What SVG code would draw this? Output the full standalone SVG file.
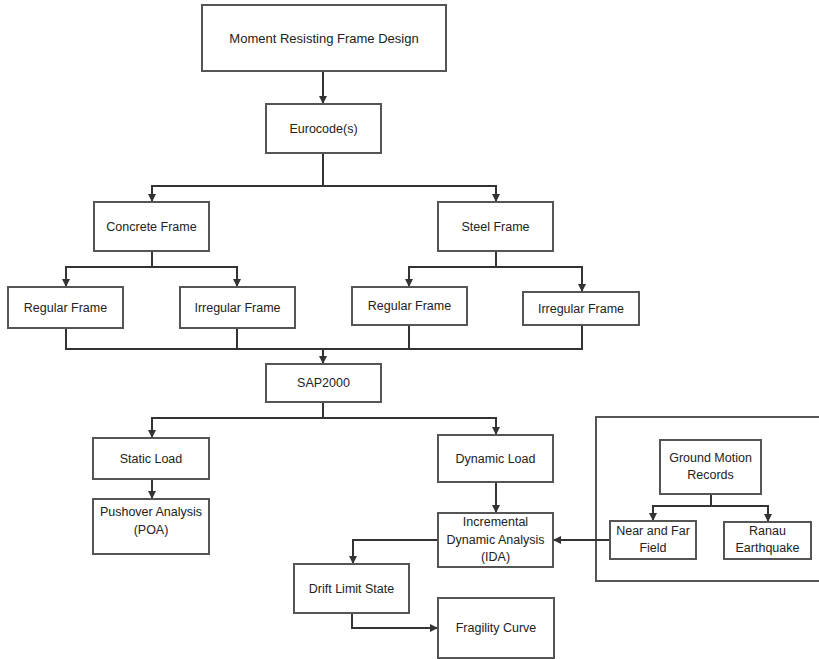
<svg xmlns="http://www.w3.org/2000/svg" width="819" height="659" viewBox="0 0 819 659">
<style>
.box{fill:#fff;stroke:#555;stroke-width:2}
.frame{fill:none;stroke:#555;stroke-width:2}
.t{font-family:"Liberation Sans",Arial,sans-serif;font-size:12.5px;fill:#222;text-anchor:middle;dominant-baseline:central}
.c{fill:none;stroke:#333;stroke-width:2}
</style>
<defs>
<marker id="ah" viewBox="0 0 10 10" refX="10" refY="5" markerWidth="4" markerHeight="4" orient="auto" markerUnits="strokeWidth">
<path d="M0,0 L10,5 L0,10 z" fill="#333"/>
</marker>
</defs>
<rect width="819" height="659" fill="#fff"/>
<path class="frame" d="M822,417 L596,417 L596,581 L822,581"/>
<g id="connectors">
<path class="c" d="M323,71 V104" marker-end="url(#ah)"/>
<path class="c" d="M323,153 V186"/>
<path class="c" d="M323,186 H152 V202" marker-end="url(#ah)"/>
<path class="c" d="M323,186 H496 V202" marker-end="url(#ah)"/>
<path class="c" d="M152,251 V267"/>
<path class="c" d="M152,267 H66 V287" marker-end="url(#ah)"/>
<path class="c" d="M152,267 H237 V287" marker-end="url(#ah)"/>
<path class="c" d="M496,251 V267"/>
<path class="c" d="M496,267 H409 V287" marker-end="url(#ah)"/>
<path class="c" d="M496,267 H582 V292" marker-end="url(#ah)"/>
<path class="c" d="M66,328 V349 H582 V325"/>
<path class="c" d="M237,328 V349"/>
<path class="c" d="M409,325 V349"/>
<path class="c" d="M323,349 V364" marker-end="url(#ah)"/>
<path class="c" d="M323,402 V418"/>
<path class="c" d="M323,418 H152 V438" marker-end="url(#ah)"/>
<path class="c" d="M323,418 H496 V435" marker-end="url(#ah)"/>
<path class="c" d="M152,479 V499" marker-end="url(#ah)"/>
<path class="c" d="M496,482 V513" marker-end="url(#ah)"/>
<path class="c" d="M711,494 V506"/>
<path class="c" d="M711,506 H653 V521" marker-end="url(#ah)"/>
<path class="c" d="M711,506 H768 V522" marker-end="url(#ah)"/>
<path class="c" d="M610,540 H553" marker-end="url(#ah)"/>
<path class="c" d="M438,540 H353 V564" marker-end="url(#ah)"/>
<path class="c" d="M352,613 V628 H438" marker-end="url(#ah)"/>
</g>
<g id="n-mrfd"><rect class="box" x="202" y="5" width="244" height="66"/><text class="t" x="324" y="38" style="font-size:13px">Moment Resisting Frame Design</text></g>
<g id="n-euro"><rect class="box" x="266" y="104" width="115" height="49"/><text class="t" x="323.5" y="128.5">Eurocode(s)</text></g>
<g id="n-concrete"><rect class="box" x="94" y="202" width="115" height="49"/><text class="t" x="151.5" y="226.5">Concrete Frame</text></g>
<g id="n-steel"><rect class="box" x="438" y="202" width="115" height="49"/><text class="t" x="495.5" y="226.5">Steel Frame</text></g>
<g id="n-creg"><rect class="box" x="8" y="287" width="115" height="41"/><text class="t" x="65.5" y="307.5">Regular Frame</text></g>
<g id="n-cirr"><rect class="box" x="180" y="287" width="115" height="41"/><text class="t" x="237.5" y="307.5">Irregular Frame</text></g>
<g id="n-sreg"><rect class="box" x="352" y="287" width="115" height="38"/><text class="t" x="409.5" y="305.5">Regular Frame</text></g>
<g id="n-sirr"><rect class="box" x="523" y="292" width="116" height="33"/><text class="t" x="581" y="308.5">Irregular Frame</text></g>
<g id="n-sap"><rect class="box" x="266" y="364" width="115" height="38"/><text class="t" x="323.5" y="383">SAP2000</text></g>
<g id="n-static"><rect class="box" x="93" y="438" width="116" height="41"/><text class="t" x="151" y="458.5">Static Load</text></g>
<g id="n-dynamic"><rect class="box" x="438" y="435" width="115" height="47"/><text class="t" x="495.5" y="458.5">Dynamic Load</text></g>
<g id="n-poa"><rect class="box" x="93" y="499" width="116" height="55"/><text class="t" x="151" y="512">Pushover Analysis</text><text class="t" x="151" y="530">(POA)</text></g>
<g id="n-ida"><rect class="box" x="438" y="513" width="115" height="54"/><text class="t" x="495.5" y="522">Incremental</text><text class="t" x="495.5" y="539.5">Dynamic Analysis</text><text class="t" x="495.5" y="557">(IDA)</text></g>
<g id="n-gmr"><rect class="box" x="660" y="440" width="101" height="54"/><text class="t" x="710.5" y="458">Ground Motion</text><text class="t" x="710.5" y="475">Records</text></g>
<g id="n-nf"><rect class="box" x="610" y="521" width="86" height="38"/><text class="t" x="653" y="531">Near and Far</text><text class="t" x="653" y="548">Field</text></g>
<g id="n-ranau"><rect class="box" x="724" y="522" width="87" height="37"/><text class="t" x="767.5" y="531">Ranau</text><text class="t" x="767.5" y="548">Earthquake</text></g>
<g id="n-drift"><rect class="box" x="294" y="564" width="115" height="49"/><text class="t" x="351.5" y="588.5">Drift Limit State</text></g>
<g id="n-frag"><rect class="box" x="438" y="598" width="116" height="60"/><text class="t" x="496" y="628">Fragility Curve</text></g>
</svg>
